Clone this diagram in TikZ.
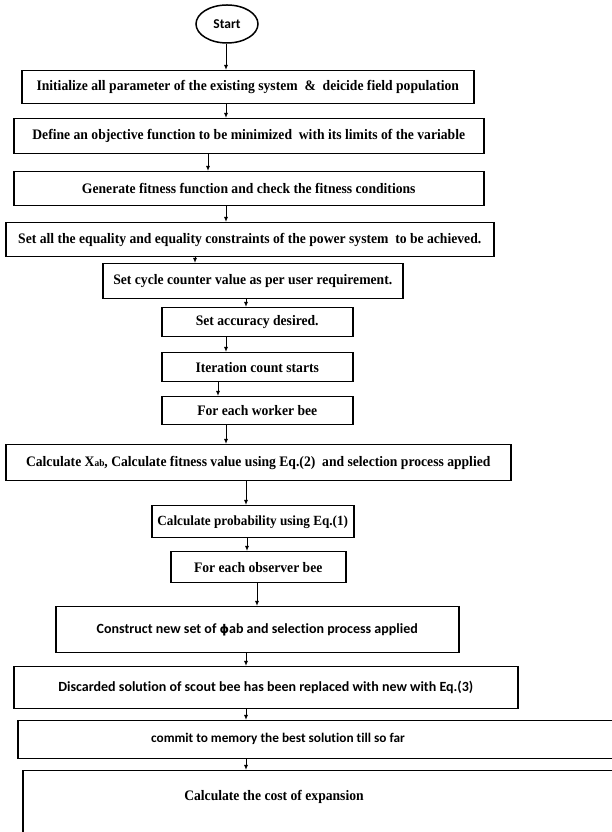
\documentclass[tikz,border=0pt]{standalone}
\usepackage{fontspec}
\setmainfont[FakeStretch=0.94]{Liberation Serif}
\newfontfamily\calfont[Ligatures=NoCommon]{Carlito}
\newfontfamily\dvfont{DejaVu Sans}
\usetikzlibrary{shapes.geometric,arrows.meta}
\tikzset{
  box/.style={draw=black, line width=1.5pt, anchor=north west, inner sep=0pt, align=center,
    font=\bfseries\fontsize{14.5}{16}\selectfont},
  sbox/.style={box, font=\calfont\bfseries\fontsize{14}{16}\selectfont},
  slbl/.style={inner sep=0pt, font=\calfont\bfseries\fontsize{13.3}{16}\selectfont},
  tlbl/.style={inner sep=0pt, font=\bfseries\fontsize{14.5}{16}\selectfont},
  arr/.style={line width=1pt, -{Latex[length=5pt,width=4pt]}},
  startnode/.style={draw=black, line width=1.5pt, ellipse, minimum width=62pt, minimum height=38pt,
    inner sep=0pt, font=\calfont\bfseries\fontsize{13.5}{15}\selectfont}
}
\begin{document}
\begin{tikzpicture}[x=1pt,y=1pt]
\useasboundingbox (0,0) rectangle (612,832);
\clip (0,0) rectangle (612,832);
\node[startnode] (s) at (227,808) {Start};
\node[box, minimum width=452pt, minimum height=33pt] (b1) at (21,762) {Initialize all parameter of the existing system\ \ \&\ \ deicide field population};
\node[box, minimum width=470pt, minimum height=35pt] (b2) at (13,714) {Define an objective function to be minimized\ \ with its limits of the variable};
\node[box, minimum width=470pt, minimum height=34pt] (b3) at (13,661) {Generate fitness function and check the fitness conditions};
\node[box, minimum width=488pt, minimum height=34pt] (b4) at (5,610) {Set all the equality and equality constraints of the power system\ \ to be achieved.};
\node[box, minimum width=300pt, minimum height=35pt] (b5) at (102,569) {Set cycle counter value as per user requirement.};
\node[box, minimum width=191pt, minimum height=29pt] (b6) at (161,525) {Set accuracy desired.};
\node[box, minimum width=191pt, minimum height=29pt] (b7) at (161,480) {Iteration count starts};
\node[box, minimum width=191pt, minimum height=28pt] (b8) at (161,436) {For each worker bee};
\node[box, minimum width=505pt, minimum height=36pt] (b9) at (5,388) {Calculate X{\fontsize{10}{10}\selectfont ab}, Calculate fitness value using Eq.(2)\ \ and selection process applied};
\node[box, minimum width=202pt, minimum height=32pt, font=\bfseries\fontsize{14}{15}\selectfont] (b10) at (151,327) {Calculate probability using Eq.(1)};
\node[box, minimum width=175pt, minimum height=31pt] (b11) at (170,281) {For each observer bee};
\node[sbox, minimum width=403pt, minimum height=46pt] (b12) at (55,226) {Construct new set of {\dvfont\bfseries\fontsize{12}{13}\selectfont ϕ}ab and selection process applied};
\node[sbox, minimum width=504pt, minimum height=42pt] (b13) at (13,166) {Discarded solution of scout bee has been replaced with new with Eq.(3)};
\node[sbox, minimum width=623pt, minimum height=38pt] (b14) at (17,112) {};
\node[slbl] (b14t) at (278,93) {commit to memory the best solution till so far};
\node[box, minimum width=618pt, minimum height=90pt] (b15) at (22,62) {};
\node[tlbl] (b15t) at (274,35) {Calculate the cost of expansion};
\coordinate (xa) at (226,0);
\coordinate (xb) at (208,0);
\coordinate (xc) at (195,0);
\coordinate (xd) at (246,0);
\coordinate (xe) at (218,0);
\coordinate (xf) at (247,0);
\coordinate (xg) at (257,0);
\draw[arr] (s.south -| xa) -- (b1.north -| xa);
\draw[arr] (b1.south -| xa) -- (b2.north -| xa);
\draw[arr] (b2.south -| xb) -- (b3.north -| xb);
\draw[arr] (b3.south -| xa) -- (b4.north -| xa);
\draw[arr] (b4.south -| xc) -- (b5.north -| xc);
\draw[arr] (b5.south -| xd) -- (b6.north -| xd);
\draw[arr] (b6.south -| xa) -- (b7.north -| xa);
\draw[arr] (b7.south -| xe) -- (b8.north -| xe);
\draw[arr] (b8.south -| xa) -- (b9.north -| xa);
\draw[arr] (b9.south -| xd) -- (b10.north -| xd);
\draw[arr] (b10.south -| xf) -- (b11.north -| xf);
\draw[arr] (b11.south -| xg) -- (b12.north -| xg);
\draw[arr] (b12.south -| xd) -- (b13.north -| xd);
\draw[arr] (b13.south -| xd) -- (b14.north -| xd);
\draw[arr] (b14.south -| xd) -- (b15.north -| xd);
\end{tikzpicture}
\end{document}
